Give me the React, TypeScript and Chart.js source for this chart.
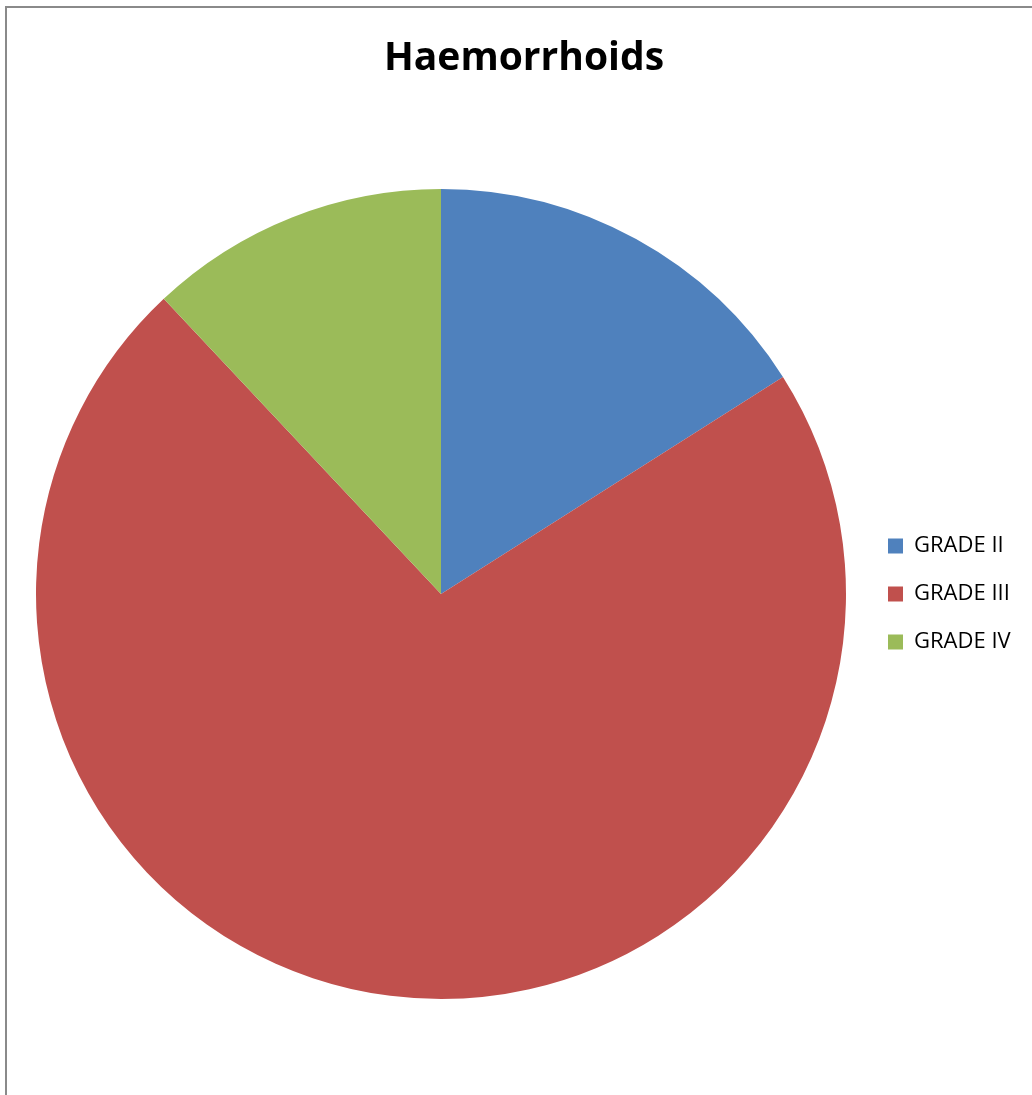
import React, { useEffect, useRef } from "react";
import { Chart, registerables } from "chart.js";

Chart.register(...registerables);

const titleText = "Haemorrhoids";
const categories = ["GRADE II", "GRADE III", "GRADE IV"];
const values = [16, 72, 12];
const colors = ["#4F81BD", "#C0504D", "#9BBB59"];

export default function App() {
  const canvasRef = useRef<HTMLCanvasElement | null>(null);

  useEffect(() => {
    const canvas = canvasRef.current;
    if (!canvas) return;
    const chart = new Chart(canvas, {
      type: "pie",
      data: {
        labels: categories,
        datasets: [
          {
            data: values,
            backgroundColor: colors,
            borderWidth: 0,
            radius: 405,
          },
        ],
      },
      options: {
        responsive: false,
        animation: false,
        layout: { padding: { left: 20, right: 20, top: 93, bottom: 0 } },
        plugins: {
          title: { display: false },
          tooltip: { enabled: false },
          legend: {
            display: true,
            position: "right",
            fullSize: false,
            maxWidth: 150,
            labels: {
              boxWidth: 15,
              boxHeight: 15,
              padding: 26,
              color: "#000",
              font: { family: "'Open Sans', sans-serif", size: 22 },
            },
          },
        },
      },
    });
    return () => chart.destroy();
  }, []);

  return (
    <div
      style={{
        position: "fixed",
        left: 0,
        top: 0,
        width: 1032,
        height: 1095,
        overflow: "hidden",
        background: "#fff",
      }}
    >
      <div
        style={{
          position: "absolute",
          left: 5,
          top: 6,
          width: 1100,
          height: 1200,
          borderLeft: "2px solid #8a8a8a",
          borderTop: "2px solid #8a8a8a",
          boxSizing: "border-box",
        }}
      />
      <canvas
        ref={canvasRef}
        width={1032}
        height={1095}
        style={{ position: "absolute", left: 0, top: 0, width: 1032, height: 1095 }}
      />
      <div
        style={{
          position: "absolute",
          left: 0,
          top: 35,
          width: 1048,
          textAlign: "center",
          fontFamily: "'Open Sans', sans-serif",
          fontWeight: 700,
          fontSize: 39,
          lineHeight: 1,
          color: "#000",
        }}
      >
        {titleText}
      </div>
    </div>
  );
}
